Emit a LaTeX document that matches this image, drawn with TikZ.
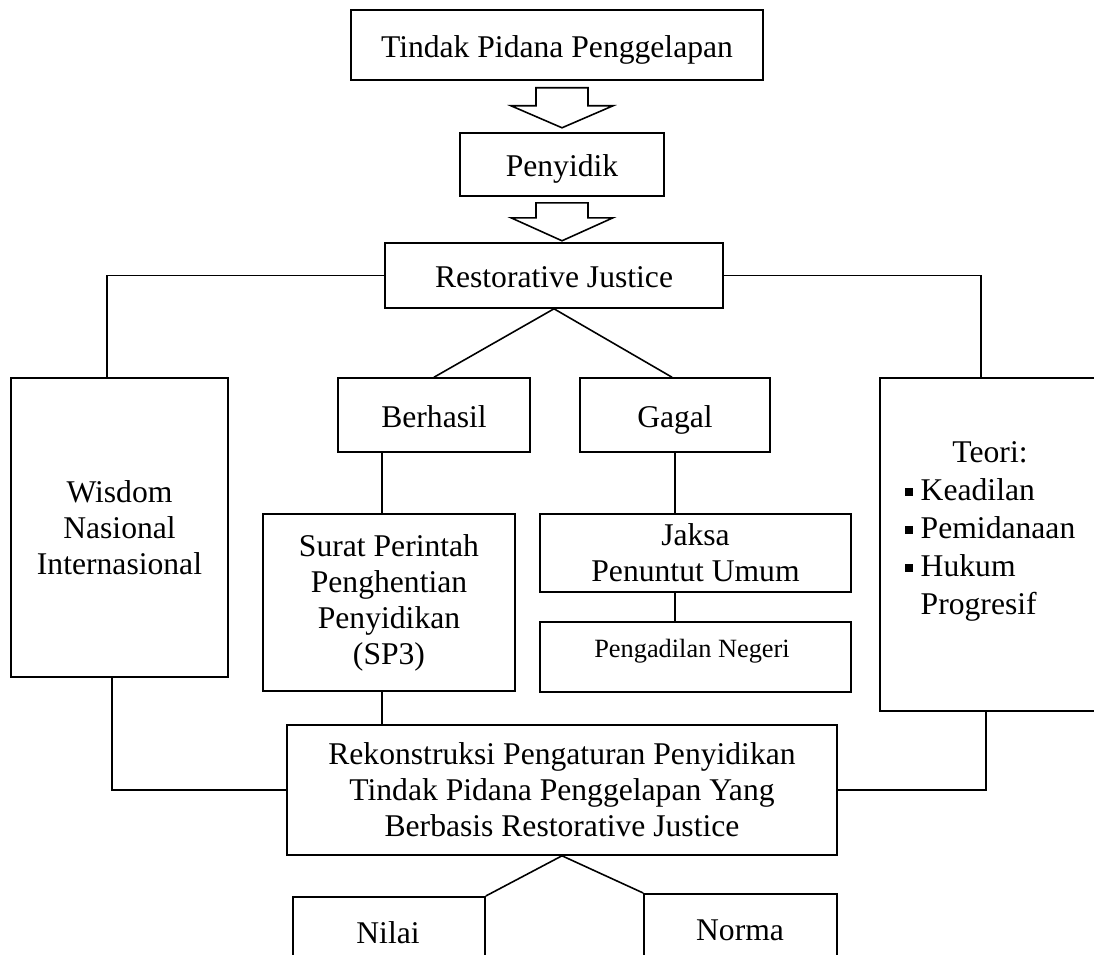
\documentclass[tikz,border=0pt]{standalone}
\usepackage{fontspec}
\setmainfont{Liberation Serif}
\usetikzlibrary{calc}
\begin{document}
\begin{tikzpicture}[x=0.02cm,y=-0.02cm,
  box/.style={draw,line width=0.9pt,align=center,inner sep=2pt,
    font=\fontsize{18}{20.5}\selectfont},
  one/.style={text height=15pt,text depth=1pt},
  ln/.style={line width=0.9pt},
  txt/.style={align=center,inner sep=0pt,font=\fontsize{18}{20.5}\selectfont}]
\clip (0,0) rectangle (1094,954);
\fill[white] (0,0) rectangle (1094,954);
% nodes
\node[box,one,minimum width=8.24cm,minimum height=1.4cm] (t1) at (557,45) {Tindak Pidana Penggelapan};
\node[box,one,minimum width=4.08cm,minimum height=1.26cm] (pen) at (562,164.5) {Penyidik};
\node[box,one,minimum width=6.76cm,minimum height=1.3cm] (rj) at (554,275.5) {Restorative Justice};
\node[box,one,minimum width=3.84cm,minimum height=1.48cm] (ber) at (434,415) {Berhasil};
\node[box,one,minimum width=3.8cm,minimum height=1.48cm] (gag) at (675,415) {Gagal};
\node[box,minimum width=4.34cm,minimum height=5.98cm] (wis) at (119.5,527.5) {Wisdom\\Nasional\\Internasional};
\node[box,minimum width=4.6cm,minimum height=6.66cm] (teo) at (995,544.5) {};
\node[txt] (teot) at (990,531) {\fontsize{18}{21.6}\selectfont
  \begin{tabular}{@{}l@{\hspace{4.5pt}}l@{}}
  \multicolumn{2}{c}{Teori:}\\
  \raisebox{0.33ex}{\rule{4.6pt}{4.6pt}} & Keadilan\\
  \raisebox{0.33ex}{\rule{4.6pt}{4.6pt}} & Pemidanaan\\
  \raisebox{0.33ex}{\rule{4.6pt}{4.6pt}} & Hukum\\
  & Progresif
  \end{tabular}};
\node[box,minimum width=5.04cm,minimum height=3.54cm] (sur) at (389,602.5) {Surat Perintah\\Penghentian\\Penyidikan\\(SP3)};
\node[box,minimum width=6.22cm,minimum height=1.56cm] (jak) at (695.5,553) {Jaksa\\Penuntut Umum};
\node[box,minimum width=6.22cm,minimum height=1.4cm] (pn) at (695.5,657) {};
\node[txt,font=\fontsize{15}{18}\selectfont] (pnt) at (692,651) {\strut Pengadilan Negeri};
\node[box,minimum width=11cm,minimum height=2.6cm] (rek) at (562,790) {Rekonstruksi Pengaturan Penyidikan\\Tindak Pidana Penggelapan Yang\\Berbasis Restorative Justice};
\node[box,minimum width=3.84cm,minimum height=2.6cm,anchor=north] (nil) at (389,896) {};
\node[txt,one] (nilt) at (388,931) {Nilai};
\node[box,minimum width=3.86cm,minimum height=2.6cm,anchor=north] (nor) at (740.5,893) {};
\node[txt,one] (nort) at (740,928) {Norma};
% block arrows
\coordinate (a1) at (t1.south -| pen.north);
\draw[ln,fill=white] ($(a1)+(-26,7)$) -- ($(a1)+(26,7)$) -- ($(a1)+(26,25)$) -- ($(a1)+(51,25)$)
  -- ($(a1)+(0,47)$) -- ($(a1)+(-51,25)$) -- ($(a1)+(-26,25)$) -- cycle;
\coordinate (a2) at (pen.south);
\draw[ln,fill=white] ($(a2)+(-26,6)$) -- ($(a2)+(26,6)$) -- ($(a2)+(26,21)$) -- ($(a2)+(51,21)$)
  -- ($(a2)+(0,44)$) -- ($(a2)+(-51,21)$) -- ($(a2)+(-26,21)$) -- cycle;
% connectors
\draw[ln] (rj.west) -| ($(wis.north west)+(97,0)$);
\draw[ln] (rj.east) -| ($(teo.north west)+(102,0)$);
\draw[ln] (ber.north) -- (rj.south) -- ($(gag.north)+(-3,0)$);
\coordinate (b1) at ($(ber.south west)+(45,0)$);
\draw[ln] (b1) -- (b1 |- sur.north);
\draw[ln] (gag.south) -- (gag.south |- jak.north);
\draw[ln] (jak.south -| gag.south) -- (pn.north -| gag.south);
\draw[ln] (sur.south -| b1) -- (rek.north -| b1);
\draw[ln] ($(wis.south west)+(102,0)$) |- (rek.west);
\draw[ln] ($(teo.south west)+(107,0)$) |- (rek.east);
\draw[ln] (nil.north east) -- (rek.south) -- (nor.north west);
\end{tikzpicture}
\end{document}
